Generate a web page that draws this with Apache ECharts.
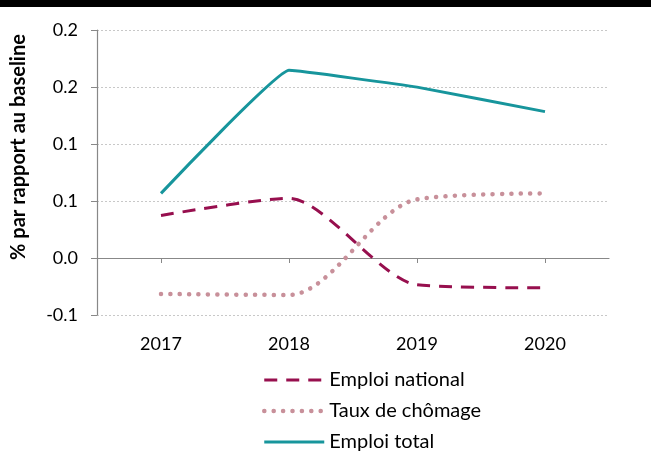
<!DOCTYPE html>
<html><head><meta charset="utf-8">
<script src="https://cdn.jsdelivr.net/npm/echarts@6/dist/echarts.min.js"></script>
<style>html,body{margin:0;padding:0;background:#fff}#c{width:651px;height:470px}</style>
</head><body><div id="c"></div>
<script>
const years = ['2017','2018','2019','2020'];
const emploiNational = [0.0373, 0.0523, -0.0235, -0.0262];
const tauxChomage = [-0.0315, -0.0324, 0.0514, 0.0567];
const emploiTotal = [0.0567, 0.1646, 0.1499, 0.1284];
const yTickLabels = ['-0.1','0.0','0.1','0.1','0.2','0.2'];
const yMin = -0.05, yMax = 0.2, yStep = 0.05;

const font = 'Lato, "Open Sans", sans-serif';
const cNat = '#970F4E', cCho = '#C8909A', cTot = '#17959C';
const lsNat = {color:cNat, width:3, type:[13,9]};
const lsCho = {color:cCho, width:4.5, type:[0.1,9.3], cap:'round'};
const lsTot = {color:cTot, width:3};
const chart = echarts.init(document.getElementById('c'), null, {renderer:'canvas'});
chart.setOption({
  animation:false,
  textStyle:{fontFamily:font},
  grid:{left:97, right:42, top:30, bottom:155},
  graphic:[
    {type:'rect', shape:{x:0,y:0,width:651,height:7}, style:{fill:'#000'}},
    {type:'text', x:19, y:147, rotation:Math.PI/2,
     style:{text:'% par rapport au baseline', font:'bold 20px '+font, fill:'#000', align:'center', verticalAlign:'middle'}}
  ],
  legend:{
    orient:'vertical', left:257, top:365, itemWidth:60, itemHeight:14, itemGap:11,
    textStyle:{fontSize:20, color:'#000', fontFamily:font},
    itemStyle:{opacity:0},
    data:[
      {name:'Emploi national', lineStyle:lsNat},
      {name:'Taux de chômage', lineStyle:lsCho},
      {name:'Emploi total', lineStyle:lsTot}
    ]
  },
  xAxis:[
    {type:'category', data:years, boundaryGap:true, position:'bottom',
     axisLine:{show:false, onZero:false}, axisTick:{show:false},
     axisLabel:{fontSize:18, color:'#000', margin:20, fontFamily:font}},
    {type:'category', data:years, boundaryGap:true, position:'bottom',
     axisLine:{show:true, onZero:true, lineStyle:{color:'#888', width:1.2}},
     axisTick:{show:true, alignWithLabel:true, length:5, inside:false, lineStyle:{color:'#888'}},
     axisLabel:{show:false}}
  ],
  yAxis:{
    type:'value', min:yMin, max:yMax, interval:yStep,
    axisLine:{show:true, lineStyle:{color:'#888', width:1.2}},
    axisTick:{show:true, length:6, lineStyle:{color:'#888'}},
    axisLabel:{fontSize:18, color:'#000', margin:19, fontFamily:font,
      formatter:function(v){ const i=Math.round((v-yMin)/yStep); return yTickLabels[i]; }},
    splitLine:{show:true, lineStyle:{color:'#c8c8c8', type:[2,2], width:1}}
  },
  series:[
    {name:'Emploi national', type:'line', data:emploiNational, smooth:0.25, symbol:'none',
     lineStyle:lsNat, itemStyle:{color:cNat}},
    {name:'Taux de chômage', type:'line', data:tauxChomage, smooth:0.3, symbol:'none',
     lineStyle:lsCho, itemStyle:{color:cCho}},
    {name:'Emploi total', type:'line', data:emploiTotal, smooth:0.08, symbol:'none',
     lineStyle:lsTot, itemStyle:{color:cTot}}
  ]
});
</script></body></html>
